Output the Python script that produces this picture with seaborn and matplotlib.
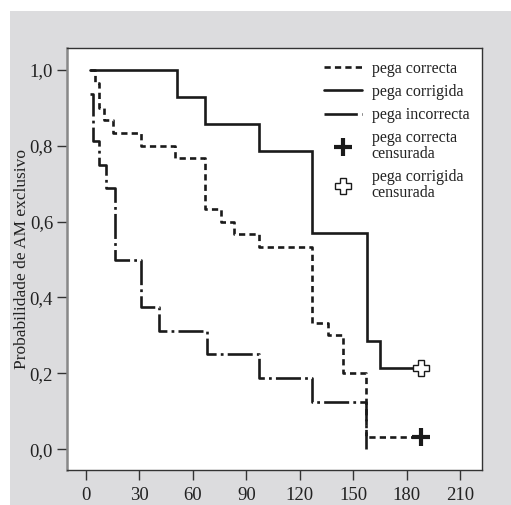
import matplotlib
matplotlib.use("Agg")
import matplotlib.pyplot as plt
import seaborn as sns
import pandas as pd
from matplotlib.lines import Line2D
from matplotlib.patches import Rectangle

# ---- data ----
correcta_t = [2, 5, 7, 10, 15, 31, 50, 67, 76, 83, 97, 127, 136, 144, 157, 188]
correcta_s = [1.0, 0.967, 0.900, 0.867, 0.833, 0.800, 0.767, 0.633, 0.600, 0.567, 0.533,
              0.333, 0.300, 0.200, 0.033, 0.033]
corrigida_t = [2, 51, 67, 97, 127, 158, 165, 188]
corrigida_s = [1.0, 0.929, 0.857, 0.786, 0.571, 0.286, 0.214, 0.214]
incorrecta_t = [2, 4, 7, 11, 16, 31, 41, 68, 97, 127, 157]
incorrecta_s = [0.9375, 0.8125, 0.75, 0.6875, 0.5, 0.375, 0.3125, 0.25, 0.1875, 0.125, 0.0]

cens_correcta_t = [188]
cens_correcta_s = [0.033]
cens_corrigida_t = [188]
cens_corrigida_s = [0.214]

xticks = [0, 30, 60, 90, 120, 150, 180, 210]
yticks = [0.0, 0.2, 0.4, 0.6, 0.8, 1.0]
ytick_labels = ["0,0", "0,2", "0,4", "0,6", "0,8", "1,0"]
labels = ["pega correcta", "pega corrigida", "pega incorrecta",
          "pega correcta\ncensurada", "pega corrigida\ncensurada"]
ylabel = "Probabilidade de AM exclusivo"

sns.set_theme(style="white")
plt.rcParams["font.family"] = ["Liberation Serif", "DejaVu Serif"]
plt.rcParams["lines.scale_dashes"] = False

fig = plt.figure(figsize=(5.11, 5.05), dpi=100)
fig.patch.set_facecolor("white")
fig.patches.append(Rectangle((10 / 511, 0), 1, (505 - 11) / 505, transform=fig.transFigure,
                             facecolor="#dcdcde", edgecolor="none", zorder=-10))
ax = fig.add_axes([67 / 511, 35 / 505, 415 / 511, 422 / 505])
ax.set_facecolor("white")

lw = 1.9
dash_c = (4.5, 3.0)
dash_dc = (18, 3, 2, 3)

df_c = pd.DataFrame({"t": correcta_t, "s": correcta_s})
df_g = pd.DataFrame({"t": corrigida_t, "s": corrigida_s})
df_i = pd.DataFrame({"t": incorrecta_t, "s": incorrecta_s})

sns.lineplot(data=df_g, x="t", y="s", ax=ax, estimator=None, sort=False, color="#1a1a1a",
             lw=lw, drawstyle="steps-post", solid_joinstyle="miter")
sns.lineplot(data=df_c, x="t", y="s", ax=ax, estimator=None, sort=False, color="#1a1a1a",
             lw=lw, drawstyle="steps-post")
ax.lines[-1].set_dashes(dash_c)
sns.lineplot(data=df_i, x="t", y="s", ax=ax, estimator=None, sort=False, color="#1a1a1a",
             lw=lw, drawstyle="steps-post")
ax.lines[-1].set_dashes(dash_dc)

ax.plot(cens_correcta_t, cens_correcta_s, linestyle="none", marker="+", markersize=13,
        mew=3, color="#1a1a1a", zorder=5)
ax.plot(cens_corrigida_t, cens_corrigida_s, linestyle="none", marker="P", markersize=12,
        mfc="white", mec="#1a1a1a", mew=1.0, zorder=5)

ax.set_xlim(-10.7, 222.3)
ax.set_ylim(-0.055, 1.058)
ax.set_xticks(xticks)
ax.set_xticklabels([str(v) for v in xticks])
ax.set_yticks(yticks)
ax.set_yticklabels(ytick_labels)
ax.set_xlabel("")
ax.set_ylabel(ylabel, fontsize=12.5, color="#222222")
ax.yaxis.set_label_coords(-0.09, 0.5)
ax.tick_params(axis="both", which="major", direction="out", length=7, width=1,
               color="#333333", labelsize=13.5, labelcolor="#222222", pad=3,
               bottom=True, left=True)
ax.tick_params(axis="x", pad=5)
for side in ["top", "right", "bottom"]:
    ax.spines[side].set_color("#333333")
    ax.spines[side].set_linewidth(1.0)
ax.spines["left"].set_color("#888888")
ax.spines["left"].set_linewidth(1.8)

handles = [
    Line2D([], [], color="#1a1a1a", lw=lw, dashes=dash_c),
    Line2D([], [], color="#1a1a1a", lw=lw),
    Line2D([], [], color="#1a1a1a", lw=lw, dashes=(24, 3, 1.5, 3)),
    Line2D([], [], linestyle="none", marker="+", markersize=13, mew=3, color="#1a1a1a"),
    Line2D([], [], linestyle="none", marker="P", markersize=12, mfc="white",
           mec="#1a1a1a", mew=1.0),
]
leg = ax.legend(handles, labels, loc="upper right", frameon=False, fontsize=11.5,
                handlelength=2.4, handletextpad=0.6, labelspacing=0.45,
                bbox_to_anchor=(1.0, 1.0), borderaxespad=0.4)
for t in leg.get_texts():
    t.set_linespacing(0.98)
    t.set_color("#222222")

fig.savefig("out.png", dpi=100)
